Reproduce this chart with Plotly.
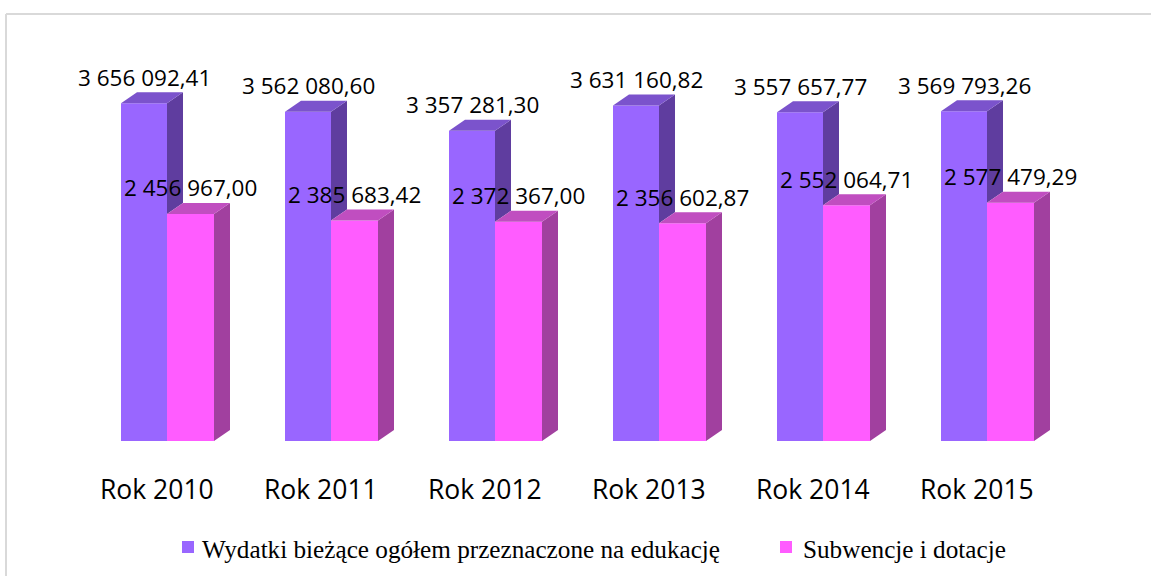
import plotly.graph_objects as go

# ---- data ----
categories = ["Rok 2010", "Rok 2011", "Rok 2012", "Rok 2013", "Rok 2014", "Rok 2015"]
wydatki = [3656092.41, 3562080.60, 3357281.30, 3631160.82, 3557657.77, 3569793.26]
subwencje = [2456967.00, 2385683.42, 2372367.00, 2356602.87, 2552064.71, 2577479.29]
series_names = ["Wydatki bieżące ogółem przeznaczone na edukację", "Subwencje i dotacje"]

# ---- styling / geometry ----
W, H = 1151, 576
px_per_cat = 164.0            # pixels per category
x_zero_px = 167.0             # pixel of category 0 centre
y_zero_px = 441.0             # pixel of value 0
px_per_val = 92.4e-6          # pixels per unit value

x0 = -x_zero_px / px_per_cat
x1 = x0 + W / px_per_cat
y1 = y_zero_px / px_per_val
y0 = (y_zero_px - H) / px_per_val

wA = 46 / px_per_cat          # purple front width
wB = 47 / px_per_cat          # pink front width
dx = 16 / px_per_cat          # depth (x)
dy = 11 / px_per_val          # depth (y)

colA_front, colA_side, colA_top = "#9966FF", "#5F3D9F", "#7B53CC"
colB_front, colB_side, colB_top = "#FF5CFF", "#A1409F", "#C04EC0"

xs = list(range(len(categories)))

fig = go.Figure()

# front faces (bars)
fig.add_trace(go.Bar(x=xs, y=wydatki, offset=-wA, width=wA, marker=dict(color=colA_front, line=dict(width=0)),
                     showlegend=False, hoverinfo="skip"))
fig.add_trace(go.Bar(x=xs, y=subwencje, offset=0, width=wB, marker=dict(color=colB_front, line=dict(width=0)),
                     showlegend=False, hoverinfo="skip"))


def poly_trace(xlists, ylists, color):
    X, Y = [], []
    for xl, yl in zip(xlists, ylists):
        X += xl + [xl[0], None]
        Y += yl + [yl[0], None]
    return go.Scatter(x=X, y=Y, mode="lines", fill="toself", fillcolor=color,
                      line=dict(width=0), showlegend=False, hoverinfo="skip")


# purple side (visible portion above the pink top)
sx, sy = [], []
tx, ty = [], []
for i, (a, b) in enumerate(zip(wydatki, subwencje)):
    sx.append([i, i + dx, i + dx, i])
    sy.append([b, b + dy, a + dy, a])
    tx.append([i - wA, i - wA + dx, i + dx, i])
    ty.append([a, a + dy, a + dy, a])
fig.add_trace(poly_trace(sx, sy, colA_side))
fig.add_trace(poly_trace(tx, ty, colA_top))

# pink side and top
sx, sy = [], []
tx, ty = [], []
for i, b in enumerate(subwencje):
    sx.append([i + wB, i + wB + dx, i + wB + dx, i + wB])
    sy.append([0, dy, b + dy, b])
    tx.append([i, i + dx, i + wB + dx, i + wB])
    ty.append([b, b + dy, b + dy, b])
fig.add_trace(poly_trace(sx, sy, colB_side))
fig.add_trace(poly_trace(tx, ty, colB_top))


def fmt(v):
    return f"{v:,.2f}".replace(",", " ").replace(".", ",")


annotations = []
for i, (a, b) in enumerate(zip(wydatki, subwencje)):
    annotations.append(dict(x=i - wA / 2, y=a, xref="x", yref="y", text=fmt(a), showarrow=False,
                            yanchor="middle", yshift=26,
                            font=dict(family="Open Sans", size=22.5, color="#000000")))
    annotations.append(dict(x=i + wB / 2, y=b, xref="x", yref="y", text=fmt(b), showarrow=False,
                            yanchor="middle", yshift=26,
                            font=dict(family="Open Sans", size=22.5, color="#000000")))
for i, c in enumerate(categories):
    annotations.append(dict(x=i, y=0, xref="x", yref="y", text=c, showarrow=False,
                            yanchor="middle", yshift=-48, xshift=-10,
                            font=dict(family="Open Sans", size=26.5, color="#000000")))

# legend (custom)
legend_items = [(series_names[0], colA_front, 182, 200), (series_names[1], colB_front, 780, 801)]
shapes = []
for name, col, sq_x, tx_x in legend_items:
    shapes.append(dict(type="rect", xref="paper", yref="paper",
                       x0=sq_x / W, x1=(sq_x + 12) / W, y0=1 - 553 / H, y1=1 - 541 / H,
                       fillcolor=col, line=dict(width=0)))
    annotations.append(dict(x=tx_x / W, y=1 - 549 / H, xref="paper", yref="paper", text=name,
                            showarrow=False, xanchor="left", yanchor="middle",
                            font=dict(family="Liberation Serif", size=25.2, color="#000000")))

# chart frame
shapes.append(dict(type="line", xref="paper", yref="paper", x0=6 / W, x1=1, y0=1 - 14 / H, y1=1 - 14 / H,
                   line=dict(color="#D9D9D9", width=2)))
shapes.append(dict(type="line", xref="paper", yref="paper", x0=6 / W, x1=6 / W, y0=0, y1=1 - 14 / H,
                   line=dict(color="#D9D9D9", width=2)))

fig.update_layout(
    width=W, height=H, autosize=False,
    margin=dict(l=0, r=0, t=0, b=0),
    paper_bgcolor="#FFFFFF", plot_bgcolor="#FFFFFF",
    barmode="overlay",
    xaxis=dict(range=[x0, x1], visible=False, fixedrange=True),
    yaxis=dict(range=[y0, y1], visible=False, fixedrange=True),
    annotations=annotations, shapes=shapes,
    showlegend=False,
)

fig.write_html("out.html", config={"displayModeBar": False},
               post_script="document.body.style.margin='0';document.body.style.overflow='hidden';")
